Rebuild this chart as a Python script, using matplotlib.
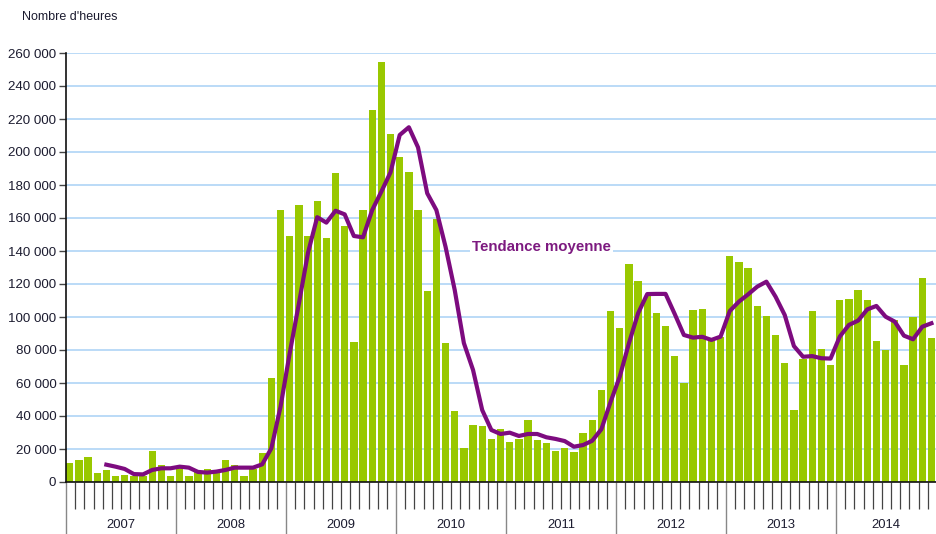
import numpy as np
import matplotlib
matplotlib.use('Agg')
import matplotlib.pyplot as plt
from matplotlib.transforms import blended_transform_factory

plt.rcParams['font.family'] = ['Liberation Sans', 'DejaVu Sans']

years = ['2007', '2008', '2009', '2010', '2011', '2012', '2013', '2014']

# monthly hours, Jan 2007 -> Nov 2014
heures = [
    11700, 13100, 15100, 5500, 7300, 3800, 4400, 3600, 3600, 18800, 10100, 3800,
    8700, 3800, 6500, 7700, 6700, 13100, 10500, 3800, 8100, 17400, 63000, 165000,
    149000, 167900, 149000, 170100, 148100, 187000, 155400, 85000, 164800, 225500, 254500, 211100,
    197200, 187600, 164800, 115900, 159400, 84400, 43200, 20800, 34300, 33900, 25800, 31900,
    24200, 25800, 37600, 25200, 23600, 18600, 20800, 18000, 29700, 37600, 55800, 103600,
    93300, 132300, 121600, 112700, 102400, 94500, 76600, 59800, 104000, 104600, 86100, 88100,
    137000, 133300, 129500, 106500, 100800, 89100, 72100, 43400, 74500, 103600, 80600, 70900,
    110300, 110900, 116200, 110300, 85700, 80000, 98200, 70900, 99800, 123800, 87500,
]

# trend line (no value for the first four months)
tendance = [
    np.nan, np.nan, np.nan, np.nan, 10500, 9300, 7900, 4800, 4600, 7300, 8300, 8300,
    9300, 8700, 6100, 5700, 6300, 7300, 8700, 8700, 8700, 10700, 20400, 45600,
    78000, 108000, 139000, 160500, 157200, 164400, 162200, 149100, 148300, 164800, 176000, 187700,
    210300, 215000, 202800, 175000, 164800, 142600, 116400, 84200, 67900, 43600, 31500, 29100,
    29900, 27900, 29100, 29100, 27100, 26100, 24800, 21400, 22400, 25000, 32000, 48500,
    63800, 84000, 102200, 113900, 114000, 114000, 101800, 89100, 87500, 88000, 86100, 88100,
    103600, 109300, 113700, 118400, 121400, 112300, 101200, 82400, 75900, 76300, 75000, 74800,
    88100, 95200, 97800, 104600, 106700, 100200, 97200, 88700, 86500, 94100, 96200,
]

n = len(heures)
x = np.arange(n)

fig = plt.figure(figsize=(9.36, 5.34), dpi=100)
ax = fig.add_axes([66 / 936, 52 / 534, 870 / 936, 429 / 534])

ax.bar(x, heures, width=0.8, align='edge', color='#99c800', zorder=2)
ax.plot(x + 0.4, tendance, color='#7d0b7f', lw=3.0, zorder=3)

ax.set_xlim(0, 94.9)
ax.set_ylim(0, 260000)

yt = np.arange(0, 260001, 20000)
ax.set_yticks(yt)
ax.set_yticklabels([f'{v:,}'.replace(',', ' ') for v in yt])
ax.yaxis.grid(True, color='#b5d8f7', lw=1.3, zorder=0)
ax.set_axisbelow(True)

for s in ['top', 'right']:
    ax.spines[s].set_visible(False)
ax.spines['left'].set_color('#111111')
ax.spines['bottom'].set_color('#111111')
ax.spines['left'].set_linewidth(1.2)
ax.spines['bottom'].set_linewidth(1.2)

ax.tick_params(axis='y', length=5, width=1, color='#444444', labelsize=9.6,
               labelcolor='#1c1c30', pad=2)

# month ticks (minor) and year separators (major)
year_pos = list(range(0, 96, 12))
ax.set_xticks(year_pos)
ax.set_xticklabels([])
ax.set_xticks([k for k in range(1, 95) if k % 12 != 0], minor=True)
ax.tick_params(axis='x', which='major', length=37.5, width=1, color='#888888')
ax.tick_params(axis='x', which='minor', length=19.5, width=0.9, color='#444444')

trans = blended_transform_factory(ax.transData, ax.transAxes)
for i, yr in enumerate(years):
    left = i * 12
    right = min(left + 12, 94.9)
    ax.text((left + right) / 2, -0.1, yr, transform=trans, ha='center', va='center',
            fontsize=9.4, color='#1c1c30')

fig.text(22 / 936, 1 - 17 / 534, "Nombre d'heures", fontsize=9, color='#1c1c30',
         ha='left', va='center')

ax.text(44.3, 142500, 'Tendance moyenne', fontsize=10.8, fontweight='bold',
        color='#7d1a80', ha='left', va='center', zorder=4,
        bbox=dict(facecolor='white', edgecolor='none', pad=1.5))

fig.savefig('out.png', dpi=100)
